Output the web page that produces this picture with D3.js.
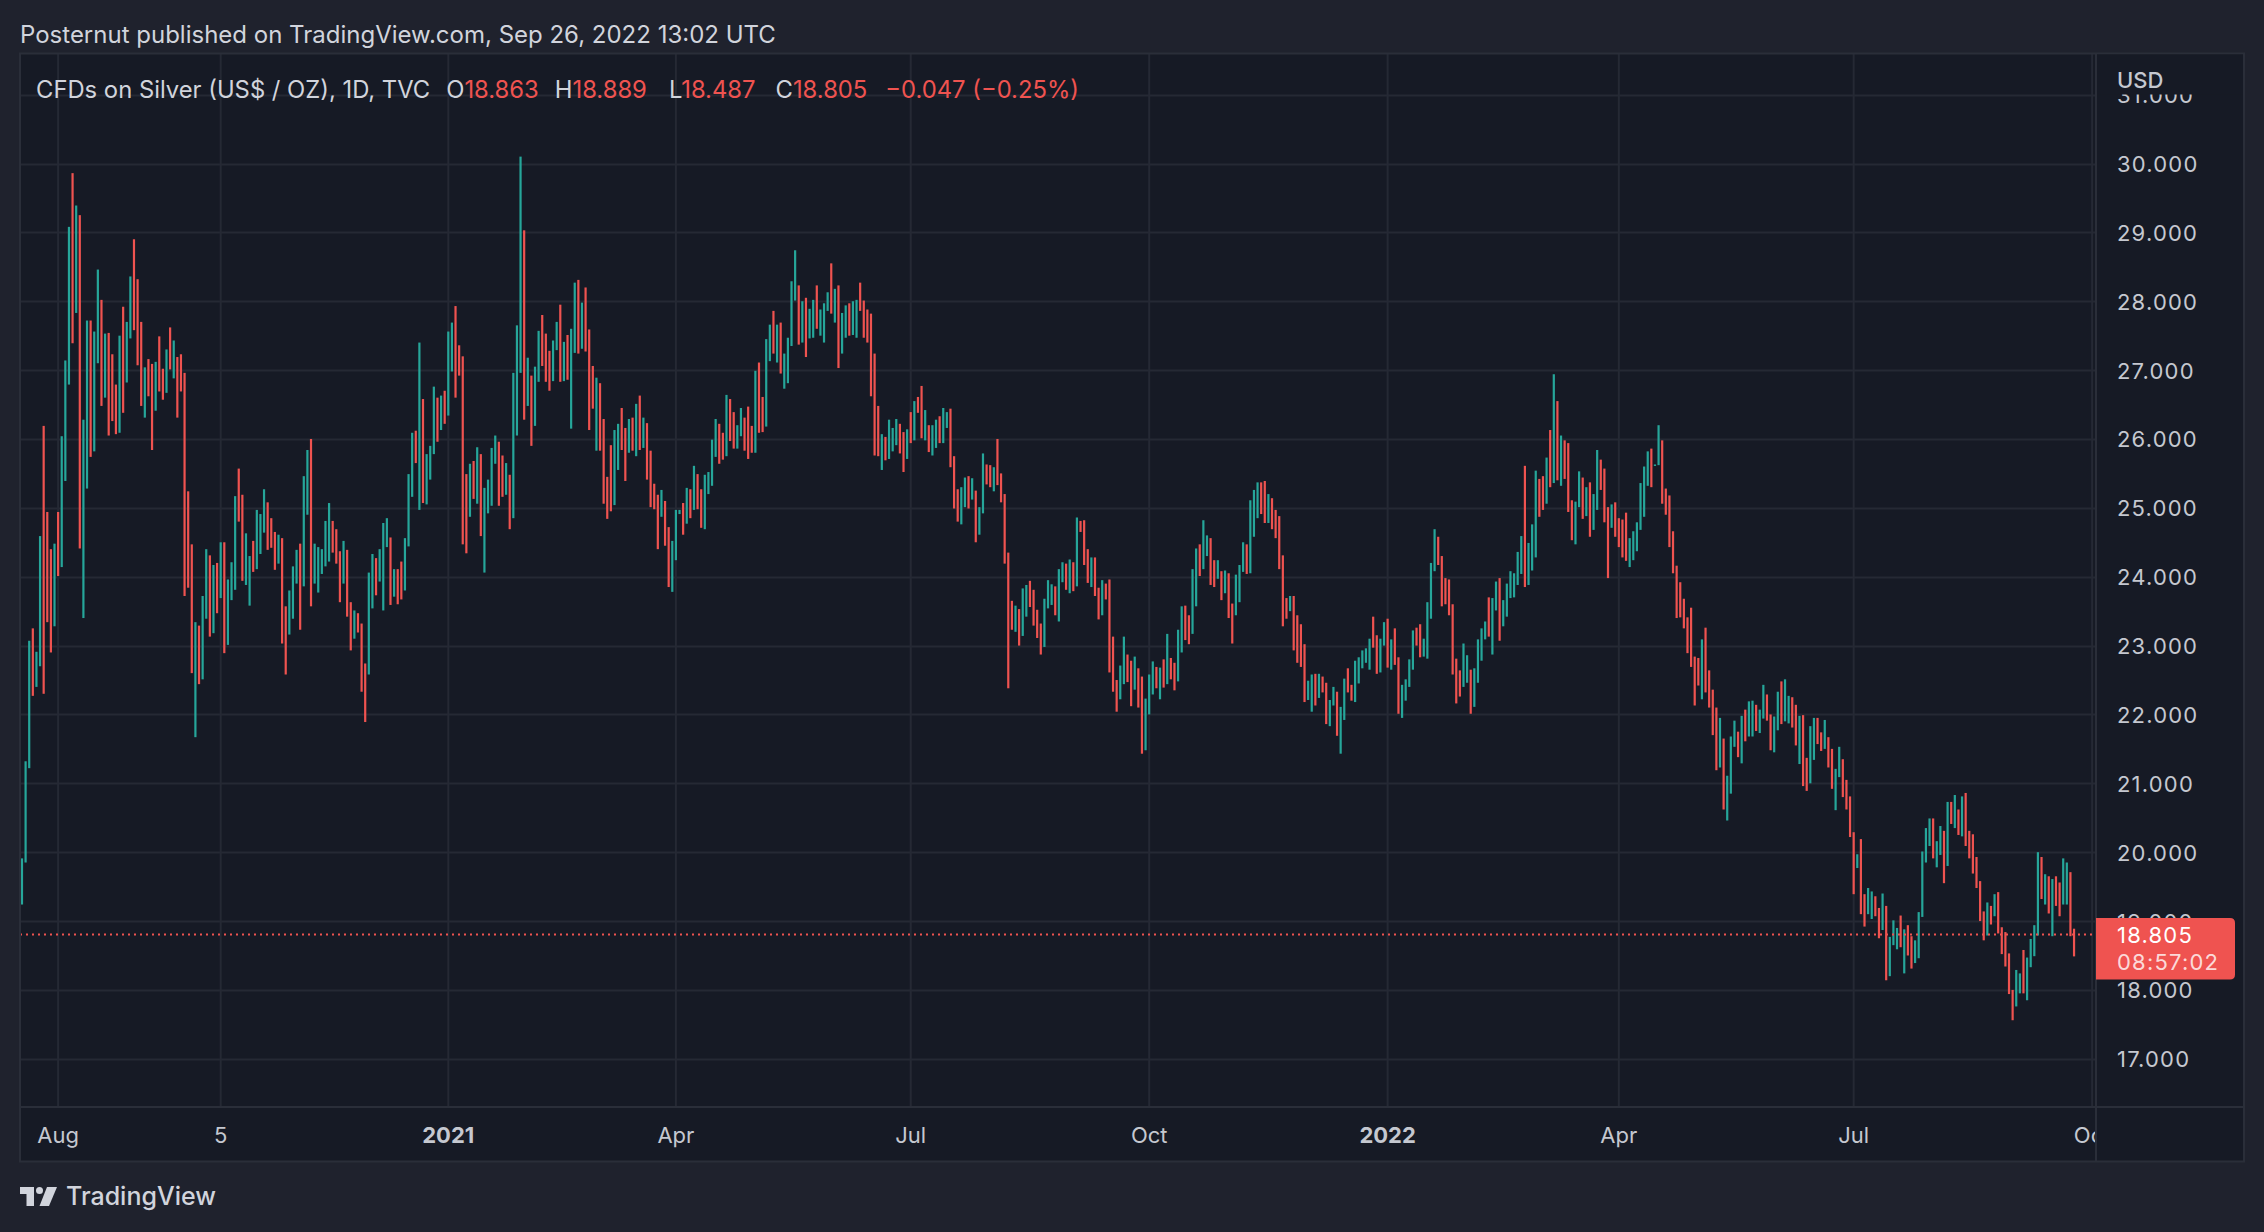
<!DOCTYPE html>
<html>
<head>
<meta charset="utf-8">
<script src="https://cdn.jsdelivr.net/npm/d3@7"></script>
<style>
    html, body { margin: 0; padding: 0; background: #1f222d; }
    svg { display: block; }
</style>
</head>
<body>
<div id="chart"></div>
<script>
// daily bars of TVC:SILVER, first bar on Jul 20 2020, last bar on Sep 26 2022
const startDate = "2020-07-20"
const holidays = ["2020-12-25", "2021-01-01"]

const highs = [
    19.91, 21.32, 23.07, 23.25, 22.91, 24.59, 26.19, 24.94, 24.40, 24.48, 24.94, 26.04, 27.14, 29.08, 29.86, 29.39, 29.25, 26.28, 27.72, 27.72,
    27.56, 28.46, 28.02, 27.53, 27.54, 27.23, 26.79, 27.50, 27.92, 27.70, 28.36, 28.90, 28.32, 27.70, 27.04, 27.16, 27.09, 27.12, 27.49, 27.02,
    27.30, 27.62, 27.43, 27.19, 27.23, 26.96, 25.24, 24.47, 23.34, 23.29, 23.72, 24.40, 24.31, 24.17, 24.20, 24.50, 24.50, 23.96, 24.21, 25.17,
    25.57, 25.19, 24.63, 24.30, 24.52, 24.97, 24.91, 25.27, 25.08, 24.85, 24.65, 24.61, 24.56, 23.57, 23.80, 24.15, 24.39, 24.48, 25.46, 25.84,
    26.00, 24.48, 24.43, 24.40, 24.81, 25.07, 24.81, 24.69, 24.37, 24.52, 24.39, 23.63, 23.51, 23.47, 23.32, 22.74, 24.06, 24.33, 24.27, 24.40,
    24.78, 24.85, 24.57, 24.11, 24.11, 24.22, 24.56, 25.49, 26.09, 26.12, 27.40, 26.58, 25.78, 25.90, 26.76, 26.60, 26.63, 26.70, 27.56, 27.69,
    27.93, 27.36, 27.20, 25.49, 25.64, 25.68, 25.88, 25.78, 25.29, 25.41, 25.87, 26.05, 25.96, 25.76, 25.65, 25.48, 26.96, 27.65, 30.10, 29.03,
    27.18, 26.92, 27.05, 27.57, 27.80, 27.53, 27.28, 27.43, 27.70, 27.95, 27.41, 27.51, 27.60, 28.27, 28.31, 27.98, 28.20, 27.59, 27.06, 26.89,
    26.81, 26.29, 25.45, 25.91, 26.13, 26.22, 26.45, 26.16, 26.29, 26.31, 26.51, 26.63, 26.31, 26.23, 25.83, 25.35, 25.19, 25.26, 25.10, 24.72,
    24.52, 24.97, 24.97, 25.07, 25.29, 25.27, 25.61, 25.49, 25.27, 25.48, 25.52, 25.99, 26.29, 26.22, 26.09, 26.64, 26.58, 26.39, 26.20, 26.45,
    26.31, 26.47, 26.19, 26.99, 27.11, 26.61, 27.45, 27.66, 27.86, 27.66, 27.69, 27.24, 27.47, 28.29, 28.74, 28.23, 28.00, 28.05, 27.89, 28.02,
    28.23, 27.88, 27.97, 28.13, 28.55, 28.18, 28.23, 27.83, 27.94, 27.97, 28.00, 28.02, 28.27, 28.01, 27.88, 27.82, 27.24, 26.48, 26.07, 26.03,
    26.28, 26.16, 26.29, 26.22, 26.10, 26.14, 26.39, 26.55, 26.61, 26.77, 26.42, 26.20, 26.20, 26.28, 26.33, 26.45, 26.39, 26.44, 25.75, 25.27,
    25.30, 25.44, 25.46, 25.43, 25.25, 25.01, 25.79, 25.63, 25.62, 25.59, 26.00, 25.50, 25.20, 24.35, 23.65, 23.58, 23.53, 23.83, 23.88, 23.94,
    23.81, 23.52, 23.32, 23.68, 23.95, 23.89, 23.86, 24.11, 24.21, 24.19, 24.25, 24.21, 24.86, 24.81, 24.82, 24.40, 24.28, 24.28, 23.84, 23.95,
    23.90, 23.96, 23.13, 22.50, 22.71, 23.13, 22.87, 22.78, 22.84, 22.67, 22.55, 22.23, 22.58, 22.77, 22.69, 22.68, 22.80, 23.17, 22.82, 22.75,
    23.23, 23.57, 23.58, 23.44, 24.11, 24.41, 24.47, 24.82, 24.60, 24.56, 24.24, 24.24, 24.08, 24.09, 24.05, 23.61, 24.03, 24.17, 24.50, 24.47,
    25.11, 25.26, 25.37, 25.37, 25.39, 25.20, 25.14, 24.97, 24.88, 24.31, 23.69, 23.72, 23.72, 23.44, 23.31, 23.02, 22.49, 22.58, 22.59, 22.59,
    22.55, 22.46, 22.21, 22.40, 22.33, 22.11, 22.52, 22.67, 22.43, 22.78, 22.83, 22.93, 22.96, 23.10, 23.42, 23.15, 23.10, 23.34, 23.39, 23.09,
    23.25, 22.83, 22.43, 22.51, 22.80, 23.22, 23.26, 23.31, 23.10, 23.63, 24.20, 24.69, 24.58, 24.30, 23.98, 23.96, 23.60, 22.81, 22.64, 23.03,
    22.86, 22.65, 22.67, 23.09, 23.25, 23.35, 23.70, 23.69, 23.93, 23.98, 23.66, 23.90, 24.08, 24.05, 24.36, 24.59, 25.61, 24.49, 24.76, 25.54,
    25.42, 25.46, 25.73, 26.13, 26.94, 26.55, 26.05, 25.98, 25.94, 25.11, 25.09, 25.53, 25.44, 25.30, 25.37, 25.20, 25.84, 25.70, 25.57, 25.01,
    25.05, 25.08, 24.85, 24.83, 24.93, 24.56, 24.66, 24.79, 25.36, 25.60, 25.82, 25.86, 25.63, 26.20, 25.98, 25.28, 25.18, 24.66, 24.16, 23.92,
    23.68, 23.41, 23.55, 22.84, 22.82, 23.09, 23.26, 22.64, 22.36, 22.10, 21.95, 21.65, 21.11, 21.68, 21.91, 21.75, 21.98, 22.07, 22.19, 22.20,
    22.14, 22.07, 22.43, 22.29, 22.00, 21.97, 22.33, 22.48, 22.51, 22.27, 22.25, 22.14, 21.98, 21.99, 21.37, 21.83, 21.95, 21.95, 21.74, 21.92,
    21.67, 21.50, 21.21, 21.53, 21.35, 21.05, 20.81, 20.29, 19.97, 20.19, 19.39, 19.48, 19.43, 19.36, 19.19, 19.40, 19.22, 18.77, 19.01, 18.90,
    19.08, 18.88, 18.94, 18.78, 18.72, 19.13, 20.01, 20.35, 20.49, 20.49, 20.16, 20.38, 20.31, 20.73, 20.73, 20.83, 20.62, 20.81, 20.86, 20.31,
    20.26, 19.93, 19.58, 19.14, 19.27, 19.22, 19.39, 19.42, 18.91, 18.84, 18.53, 18.00, 18.29, 18.24, 18.58, 18.47, 18.74, 18.94, 20.00, 19.93,
    19.68, 19.65, 19.61, 19.65, 19.56, 19.91, 19.85, 19.71, 18.889
]
const lows = [
    19.24, 19.85, 21.22, 22.27, 22.40, 22.70, 22.30, 23.34, 22.90, 23.28, 24.01, 24.14, 25.39, 26.79, 27.39, 27.83, 24.41, 23.40, 25.28, 25.74,
    25.82, 27.10, 26.48, 26.60, 26.05, 26.26, 26.07, 26.09, 26.38, 26.82, 27.46, 27.58, 27.07, 26.48, 26.31, 26.62, 25.84, 26.41, 26.69, 26.57,
    26.67, 27.01, 26.88, 26.31, 26.69, 23.72, 23.84, 22.60, 21.67, 22.44, 22.51, 23.39, 23.13, 23.18, 23.47, 23.69, 22.89, 23.01, 23.66, 23.81,
    24.80, 23.94, 23.88, 23.58, 24.07, 24.11, 24.33, 24.64, 24.39, 24.42, 24.10, 24.19, 23.03, 22.58, 23.16, 23.39, 23.90, 23.23, 23.86, 24.90,
    23.57, 23.90, 23.77, 24.04, 24.15, 24.22, 24.35, 24.19, 23.63, 23.90, 23.42, 22.93, 23.10, 23.19, 22.33, 21.89, 22.58, 23.54, 23.73, 23.93,
    23.51, 24.43, 23.59, 23.71, 23.60, 23.67, 23.80, 24.44, 25.16, 25.65, 24.97, 25.07, 25.05, 25.41, 25.78, 25.96, 26.13, 26.22, 26.34, 26.98,
    26.60, 26.92, 24.47, 24.34, 24.87, 25.13, 25.06, 24.59, 24.06, 24.92, 25.03, 25.64, 25.03, 25.16, 25.19, 24.69, 24.85, 26.05, 26.96, 26.28,
    26.48, 25.90, 26.19, 26.83, 27.06, 26.83, 26.70, 26.84, 27.29, 26.83, 26.84, 26.86, 26.15, 27.25, 27.24, 27.31, 27.27, 26.13, 26.44, 25.83,
    25.83, 25.06, 24.84, 24.95, 25.04, 25.55, 25.84, 25.39, 25.80, 25.83, 25.75, 25.84, 25.87, 25.41, 25.01, 24.98, 24.40, 24.87, 24.45, 23.85,
    23.78, 24.24, 24.91, 24.61, 24.77, 24.85, 24.97, 24.98, 24.71, 24.69, 25.20, 25.32, 25.74, 25.64, 25.70, 25.75, 25.97, 25.86, 25.86, 26.04,
    25.83, 25.71, 25.80, 25.80, 26.09, 26.10, 26.18, 27.13, 27.24, 27.11, 26.95, 26.73, 26.81, 27.35, 28.01, 27.37, 27.40, 27.19, 27.46, 27.47,
    27.60, 27.50, 27.40, 27.86, 27.82, 27.69, 27.03, 27.24, 27.47, 27.50, 27.51, 27.47, 27.86, 27.47, 27.40, 26.62, 25.76, 25.75, 25.55, 25.69,
    25.71, 25.82, 25.91, 25.79, 25.52, 25.71, 25.94, 25.98, 26.38, 26.01, 25.98, 25.81, 25.76, 25.87, 25.94, 25.94, 26.16, 25.59, 24.99, 24.80,
    24.76, 25.01, 24.99, 25.12, 24.50, 24.61, 24.92, 25.34, 25.30, 25.24, 25.33, 25.08, 24.19, 22.38, 23.23, 23.20, 23.00, 23.14, 23.42, 23.56,
    23.29, 23.11, 22.87, 22.98, 23.54, 23.59, 23.44, 23.35, 23.92, 23.81, 23.76, 23.79, 23.86, 24.65, 24.17, 23.91, 23.85, 23.72, 23.38, 23.44,
    23.67, 22.61, 22.33, 22.04, 22.22, 22.44, 22.47, 22.12, 22.36, 22.10, 21.43, 21.48, 22.00, 22.29, 22.38, 22.22, 22.39, 22.44, 22.51, 22.35,
    22.48, 22.90, 23.08, 23.02, 23.17, 23.57, 24.01, 24.11, 24.30, 23.88, 23.85, 23.97, 23.66, 23.76, 23.40, 23.03, 23.44, 23.63, 24.07, 24.04,
    24.05, 24.58, 24.85, 24.91, 24.78, 24.78, 24.69, 24.56, 24.11, 23.28, 23.39, 23.50, 22.93, 22.75, 22.69, 22.18, 22.21, 22.04, 22.13, 22.24,
    22.32, 21.86, 21.83, 22.13, 21.69, 21.43, 21.92, 22.32, 22.20, 22.18, 22.45, 22.67, 22.75, 22.65, 22.97, 22.59, 22.61, 23.00, 22.68, 22.65,
    22.72, 22.01, 21.95, 22.20, 22.40, 22.65, 23.00, 22.83, 22.84, 22.81, 23.39, 24.08, 24.17, 23.57, 23.60, 23.44, 22.58, 22.16, 22.26, 22.40,
    22.46, 22.01, 22.11, 22.46, 22.78, 23.09, 23.13, 22.87, 23.51, 23.07, 23.28, 23.42, 23.69, 23.70, 23.88, 24.04, 23.85, 23.88, 24.09, 24.28,
    24.87, 24.97, 25.06, 25.30, 25.36, 25.40, 25.32, 25.42, 24.94, 24.53, 24.47, 25.01, 24.84, 24.88, 24.58, 24.68, 24.97, 25.26, 24.79, 23.98,
    24.71, 24.58, 24.43, 24.28, 24.23, 24.14, 24.24, 24.37, 24.68, 24.87, 25.32, 25.30, 25.62, 25.62, 25.06, 24.90, 24.43, 24.05, 23.40, 23.41,
    23.25, 22.89, 22.69, 22.13, 22.42, 22.22, 22.32, 22.10, 21.70, 21.19, 21.23, 20.62, 20.46, 20.85, 21.53, 21.38, 21.29, 21.61, 21.68, 21.68,
    21.76, 21.73, 21.94, 21.91, 21.48, 21.45, 21.77, 21.86, 21.90, 21.87, 21.81, 21.55, 21.28, 20.96, 20.89, 21.00, 21.34, 21.57, 21.47, 21.50,
    21.23, 20.92, 20.61, 21.09, 20.80, 20.62, 20.22, 19.39, 19.77, 19.10, 18.92, 19.10, 19.03, 19.07, 18.75, 18.87, 18.14, 18.20, 18.65, 18.59,
    18.62, 18.24, 18.50, 18.31, 18.39, 18.46, 19.06, 19.85, 20.09, 19.91, 19.78, 19.96, 19.55, 19.80, 20.41, 20.35, 20.25, 20.23, 20.09, 19.91,
    19.69, 19.48, 19.00, 18.72, 18.79, 18.95, 19.07, 18.82, 18.52, 18.34, 17.94, 17.56, 17.76, 17.95, 17.95, 17.85, 18.33, 18.49, 18.79, 19.32,
    19.24, 19.11, 18.78, 19.22, 19.07, 19.24, 19.24, 18.78, 18.487
]
// 1 = close above open (green), 0 = close below open (red)
const ups = [
    1, 1, 1, 0, 1, 1, 0, 0, 0, 1, 0, 1, 1, 1, 0, 1, 0, 1, 1, 0,
    1, 1, 0, 1, 0, 0, 0, 1, 0, 1, 1, 0, 0, 0, 1, 0, 0, 1, 0, 0,
    1, 0, 1, 0, 0, 0, 0, 0, 1, 0, 1, 1, 0, 1, 0, 1, 0, 1, 1, 1,
    0, 0, 1, 1, 0, 1, 1, 1, 0, 0, 0, 1, 0, 0, 1, 1, 1, 0, 1, 1,
    0, 1, 1, 1, 1, 1, 0, 0, 0, 1, 0, 0, 1, 0, 0, 0, 1, 1, 0, 1,
    1, 1, 0, 1, 0, 0, 1, 1, 1, 0, 1, 0, 1, 1, 1, 0, 1, 0, 1, 1,
    0, 0, 0, 0, 1, 0, 1, 0, 1, 1, 1, 1, 0, 0, 1, 0, 1, 1, 1, 0,
    1, 0, 1, 1, 0, 0, 0, 1, 1, 0, 1, 0, 1, 1, 0, 1, 0, 0, 0, 1,
    0, 0, 0, 0, 1, 1, 0, 0, 1, 0, 1, 0, 1, 0, 0, 0, 0, 1, 0, 0,
    1, 1, 1, 0, 1, 0, 1, 0, 0, 1, 1, 1, 1, 0, 0, 1, 0, 0, 1, 1,
    0, 0, 0, 1, 0, 0, 1, 1, 0, 1, 0, 1, 1, 1, 1, 0, 1, 0, 1, 1,
    0, 1, 1, 1, 0, 1, 0, 1, 1, 0, 1, 1, 0, 0, 0, 0, 0, 0, 1, 0,
    1, 1, 1, 0, 0, 1, 0, 1, 0, 0, 1, 0, 1, 1, 0, 1, 1, 0, 0, 0,
    1, 1, 0, 1, 0, 1, 1, 0, 0, 1, 0, 0, 0, 0, 0, 1, 0, 1, 1, 0,
    0, 0, 0, 1, 1, 1, 0, 1, 1, 0, 1, 0, 1, 0, 0, 0, 1, 0, 0, 1,
    0, 0, 0, 0, 1, 1, 0, 0, 1, 0, 0, 1, 1, 1, 0, 1, 0, 1, 0, 0,
    1, 1, 0, 0, 1, 1, 0, 1, 1, 0, 0, 1, 0, 1, 0, 0, 1, 1, 1, 0,
    1, 1, 1, 0, 0, 1, 0, 0, 0, 0, 0, 1, 0, 0, 0, 0, 1, 1, 0, 1,
    0, 0, 1, 1, 0, 1, 1, 0, 0, 1, 1, 1, 1, 1, 0, 0, 1, 1, 0, 1,
    0, 0, 1, 1, 1, 1, 0, 0, 1, 1, 1, 1, 0, 0, 0, 0, 0, 0, 0, 1,
    1, 0, 1, 1, 1, 1, 0, 1, 1, 0, 1, 1, 1, 1, 1, 1, 0, 1, 1, 1,
    0, 0, 1, 0, 1, 0, 1, 0, 0, 0, 1, 1, 0, 1, 0, 1, 1, 0, 0, 0,
    1, 0, 0, 0, 0, 1, 1, 1, 1, 1, 1, 0, 1, 1, 0, 0, 0, 0, 0, 0,
    0, 0, 0, 0, 0, 1, 0, 0, 0, 0, 1, 0, 1, 1, 1, 0, 1, 0, 1, 1,
    0, 1, 1, 0, 0, 1, 1, 0, 1, 1, 0, 0, 1, 0, 0, 1, 1, 0, 0, 1,
    0, 0, 1, 1, 0, 0, 0, 0, 1, 0, 0, 1, 1, 0, 0, 1, 0, 1, 1, 1,
    0, 1, 0, 0, 1, 1, 1, 1, 1, 0, 1, 1, 0, 1, 0, 1, 0, 1, 0, 0,
    0, 0, 0, 0, 1, 0, 1, 0, 0, 0, 0, 0, 1, 1, 0, 1, 1, 1, 1, 0,
    1, 0, 1, 0, 0, 1, 1, 0, 0
]

const tickLabels = ["Aug", "5", "2021", "Apr", "Jul", "Oct", "2022", "Apr", "Jul", "Oct"]
const tickDates = ["2020-08-03", "2020-10-05", "2021-01-04", "2021-04-01", "2021-07-01", "2021-10-01", "2022-01-03", "2022-04-01", "2022-07-01", "2022-10-03"]
const priceTicks = [17, 18, 19, 20, 21, 22, 23, 24, 25, 26, 27, 28, 29, 30, 31]

const lastPrice = 18.805
const countdown = "08:57:02"
const headerText = "Posternut published on TradingView.com, Sep 26, 2022 13:02 UTC"
const symbolText = "CFDs on Silver (US$ / OZ), 1D, TVC"
const ohlcKeys = ["O", "H", "L", "C"]
const ohlcValues = ["18.863", "18.889", "18.487", "18.805"]
const changeText = "\u22120.047 (\u22120.25%)"

const upColor = "#26a69a"
const downColor = "#ef5350"
const font = "Inter, 'Noto Sans', sans-serif"

let dimensions = {
    width: 2264,
    height: 1232,
    box: {left: 20, top: 53.5, right: 2244, bottom: 1161.5},
    plot: {left: 20, top: 54, right: 2095, bottom: 1107},
}

// trading calendar: weekdays without the two holidays
const holidaySet = new Set(holidays)
const tradingDays = []
let day = new Date(startDate + "T00:00:00Z")
while (tradingDays.length < highs.length + 10) {
    const wd = day.getUTCDay()
    const iso = day.toISOString().slice(0, 10)
    if (wd !== 0 && wd !== 6 && !holidaySet.has(iso)) tradingDays.push(iso)
    day = new Date(day.getTime() + 86400000)
}
const tickIndex = tickDates.map(d => tradingDays.indexOf(d))

const wrapper = d3.select("#chart")
    .append("svg")
    .attr("width", dimensions.width)
    .attr("height", dimensions.height)
    .style("font-family", font)

const defs = wrapper.append("defs")
defs.append("clipPath").attr("id", "plotClip")
    .append("rect")
    .attr("x", dimensions.plot.left)
    .attr("y", dimensions.plot.top)
    .attr("width", dimensions.plot.right - dimensions.plot.left)
    .attr("height", dimensions.plot.bottom - dimensions.plot.top)
defs.append("clipPath").attr("id", "timeClip")
    .append("rect")
    .attr("x", dimensions.plot.left)
    .attr("y", dimensions.plot.bottom)
    .attr("width", dimensions.plot.right - dimensions.plot.left)
    .attr("height", dimensions.box.bottom - dimensions.plot.bottom)

wrapper.append("rect")
    .attr("width", dimensions.width)
    .attr("height", dimensions.height)
    .attr("fill", "#1f222d")

wrapper.append("rect")
    .attr("x", dimensions.box.left)
    .attr("y", dimensions.box.top)
    .attr("width", dimensions.box.right - dimensions.box.left)
    .attr("height", dimensions.box.bottom - dimensions.box.top)
    .attr("fill", "#161a25")

const xScale = d3.scaleLinear()
    .domain([-0.55, highs.length - 1 + 5.8])
    .range([dimensions.plot.left, dimensions.plot.right])
const yScale = d3.scaleLinear()
    .domain([16.30, 31.59])
    .range([dimensions.plot.bottom, dimensions.plot.top])

const bounds = wrapper.append("g")

// grid
const grid = bounds.append("g").attr("clip-path", "url(#plotClip)")
grid.selectAll(".hgrid")
    .data(priceTicks)
    .join("line")
    .attr("x1", dimensions.plot.left)
    .attr("x2", dimensions.plot.right)
    .attr("y1", d => Math.round(yScale(d)) + 0.5)
    .attr("y2", d => Math.round(yScale(d)) + 0.5)
    .attr("stroke", "#252934")
    .attr("stroke-width", 2)
grid.selectAll(".vgrid")
    .data(tickIndex)
    .join("line")
    .attr("x1", d => xScale(d))
    .attr("x2", d => xScale(d))
    .attr("y1", dimensions.plot.top)
    .attr("y2", dimensions.plot.bottom)
    .attr("stroke", "#252934")
    .attr("stroke-width", 2)

// high-low bars
const barWidth = 2.2
bounds.append("g")
    .attr("clip-path", "url(#plotClip)")
    .selectAll("rect")
    .data(d3.range(highs.length))
    .join("rect")
    .attr("x", i => xScale(i) - barWidth / 2)
    .attr("y", i => yScale(highs[i]))
    .attr("width", barWidth)
    .attr("height", i => Math.max(1.5, yScale(lows[i]) - yScale(highs[i])))
    .attr("fill", i => ups[i] ? upColor : downColor)

// last price line
bounds.append("line")
    .attr("x1", dimensions.plot.left)
    .attr("x2", dimensions.plot.right)
    .attr("y1", yScale(lastPrice))
    .attr("y2", yScale(lastPrice))
    .attr("stroke", downColor)
    .attr("stroke-width", 2)
    .attr("stroke-dasharray", "2 4")

// frame lines
const frame = bounds.append("g").attr("stroke", "#2a2e39").attr("stroke-width", 2).attr("fill", "none")
frame.append("rect")
    .attr("x", dimensions.box.left)
    .attr("y", dimensions.box.top)
    .attr("width", dimensions.box.right - dimensions.box.left)
    .attr("height", dimensions.box.bottom - dimensions.box.top)
frame.append("line")
    .attr("x1", dimensions.box.left).attr("x2", dimensions.box.right)
    .attr("y1", dimensions.plot.bottom).attr("y2", dimensions.plot.bottom)
frame.append("line")
    .attr("x1", dimensions.plot.right + 1).attr("x2", dimensions.plot.right + 1)
    .attr("y1", dimensions.box.top).attr("y2", dimensions.box.bottom)

// time axis labels
bounds.append("g")
    .attr("clip-path", "url(#timeClip)")
    .selectAll("text")
    .data(tickLabels)
    .join("text")
    .attr("x", (d, i) => xScale(tickIndex[i]))
    .attr("y", 1143)
    .attr("text-anchor", "middle")
    .attr("font-size", 22)
    .attr("font-weight", d => /^\d{4}$/.test(d) ? 700 : 400)
    .attr("fill", "#c5c8d0")
    .text(d => d)

// price axis labels
const priceAxisX = 2117
bounds.append("g")
    .selectAll("text")
    .data(priceTicks)
    .join("text")
    .attr("x", priceAxisX)
    .attr("y", d => yScale(d) + 8.5)
    .attr("font-size", 22)
    .attr("letter-spacing", 1.2)
    .attr("fill", "#c5c8d0")
    .text(d => d.toFixed(3))

// currency label covering the clipped top tick
bounds.append("rect")
    .attr("x", dimensions.plot.right + 2)
    .attr("y", dimensions.box.top + 1)
    .attr("width", dimensions.box.right - dimensions.plot.right - 3)
    .attr("height", 40)
    .attr("fill", "#161a25")
bounds.append("text")
    .attr("x", priceAxisX)
    .attr("y", 88)
    .attr("font-size", 22)
    .attr("font-weight", 500)
    .attr("fill", "#c5c8d0")
    .text("USD")

// last price tag
const tagY = yScale(lastPrice)
const tagX = dimensions.plot.right + 1
const tagW = 139
const r = 5
bounds.append("path")
    .attr("d", `M${tagX},${tagY - 16.5} H${tagX + tagW - r} Q${tagX + tagW},${tagY - 16.5} ${tagX + tagW},${tagY - 16.5 + r} V${tagY + 45 - r} Q${tagX + tagW},${tagY + 45} ${tagX + tagW - r},${tagY + 45} H${tagX} Z`)
    .attr("fill", downColor)
bounds.append("text")
    .attr("x", priceAxisX)
    .attr("y", tagY + 8.5)
    .attr("font-size", 22)
    .attr("letter-spacing", 1.2)
    .attr("fill", "#ffffff")
    .text(lastPrice.toFixed(3))
bounds.append("text")
    .attr("x", priceAxisX)
    .attr("y", tagY + 36)
    .attr("font-size", 22)
    .attr("letter-spacing", 1.2)
    .attr("fill", "rgba(255,255,255,0.8)")
    .text(countdown)

// header
wrapper.append("text")
    .attr("x", 20)
    .attr("y", 43)
    .attr("font-size", 24)
    .attr("fill", "#d1d4dc")
    .text(headerText)

// legend
const legend = wrapper.append("text")
    .attr("x", 36)
    .attr("y", 98)
    .attr("font-size", 23.8)
    .attr("fill", "#d1d4dc")
legend.append("tspan").text(symbolText)
const legendGaps = [16, 16, 22, 20]
ohlcKeys.forEach((k, i) => {
    legend.append("tspan").attr("dx", legendGaps[i]).attr("fill", "#d1d4dc").text(k)
    legend.append("tspan").attr("fill", downColor).text(ohlcValues[i])
})
legend.append("tspan").attr("dx", 18).attr("fill", downColor).text(changeText)

// TradingView logo
const logo = wrapper.append("g")
    .attr("transform", "translate(20,1187)")
    .attr("fill", "#d1d4dc")
logo.append("path").attr("d", "M0,0 H14 V19 H6.5 V7 H0 Z")
logo.append("circle").attr("cx", 19.5).attr("cy", 3.5).attr("r", 3.5)
logo.append("path").attr("d", "M27,0 H37 L29,19 H19.5 Z")
wrapper.append("text")
    .attr("x", 66)
    .attr("y", 1205)
    .attr("font-size", 25)
    .attr("font-weight", 500)
    .attr("fill", "#d1d4dc")
    .text("TradingView")
</script>
</body>
</html>
